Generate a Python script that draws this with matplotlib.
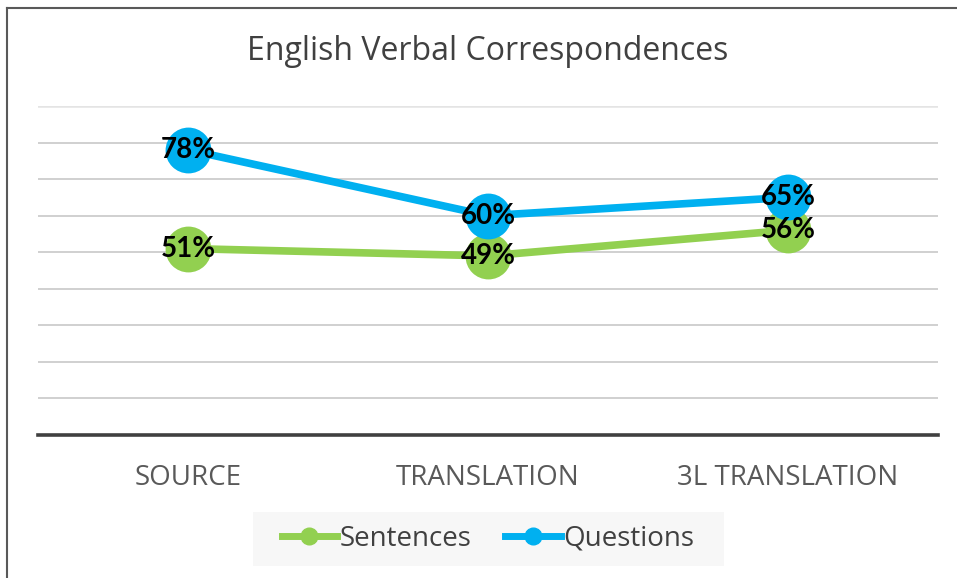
import matplotlib.pyplot as plt
from matplotlib.lines import Line2D
from matplotlib.patches import Rectangle

# Data
categories = ['SOURCE', 'TRANSLATION', '3L TRANSLATION']
sentences = [0.51, 0.49, 0.56]
questions = [0.78, 0.60, 0.65]

green = '#92D050'
blue = '#00B0F0'
W, H = 957, 578

fig = plt.figure(figsize=(W / 100, H / 100), dpi=100)
ax = fig.add_axes([38 / W, 1 - 435 / H, 900 / W, (435 - 106) / H])

x = range(len(categories))
for vals, col, name in [(sentences, green, 'Sentences'), (questions, blue, 'Questions')]:
    ax.plot(x, vals, color=col, lw=5.5, marker='o', markersize=33,
            markeredgewidth=0, solid_capstyle='round', zorder=3, label=name)
    for i, v in enumerate(vals):
        ax.text(i, v, f'{v:.0%}', ha='center', va='center', fontsize=20,
                fontweight='bold', family='Lato', color='black', zorder=4)

ax.set_xlim(-0.5, len(categories) - 0.5)
ax.set_ylim(0, 0.9)
ax.set_yticks([i / 10 for i in range(1, 10)])
ax.yaxis.grid(True, color='#c8c8c8', lw=1.2)
ax.get_ygridlines()[-1].set_color('#e4e4e4')
ax.get_ygridlines()[-1].set_linewidth(1.8)
ax.set_axisbelow(True)
ax.tick_params(axis='y', length=0, labelleft=False)
ax.tick_params(axis='x', length=0, pad=21, labelsize=20, labelcolor='#595959')
ax.set_xticks(list(x))
ax.set_xticklabels(categories, family='Open Sans')
for s in ['left', 'right', 'top']:
    ax.spines[s].set_visible(False)
ax.spines['bottom'].set_color('#404040')
ax.spines['bottom'].set_linewidth(2.6)

fig.text(488 / W, 1 - 52 / H, 'English Verbal Correspondences', ha='center', va='center',
         fontsize=23, family='Open Sans', color='#404040')

# Legend box
fig.patches.append(Rectangle((253 / W, 1 - 566 / H), 471 / W, 54 / H,
                             transform=fig.transFigure, facecolor='#f7f7f7',
                             edgecolor='none', zorder=0))
handles = [Line2D([], [], color=green, lw=5, marker='o', markersize=12),
           Line2D([], [], color=blue, lw=5, marker='o', markersize=12)]
fig.legend(handles, ['Sentences', 'Questions'], loc='center', ncol=2,
           bbox_to_anchor=(488 / W, 1 - 539 / H), frameon=False,
           prop={'family': 'Open Sans', 'size': 20}, labelcolor='#404040',
           handlelength=2.0, handletextpad=0.1, columnspacing=1.2)

# Outer frame (left and top edges)
fig.add_artist(Line2D([7.5 / W, 7.5 / W], [0, 1 - 7.5 / H], transform=fig.transFigure,
                      color='#595959', lw=1.5))
fig.add_artist(Line2D([7.5 / W, 1], [1 - 7.5 / H, 1 - 7.5 / H], transform=fig.transFigure,
                      color='#595959', lw=1.5))

fig.savefig('out.png', dpi=100)
